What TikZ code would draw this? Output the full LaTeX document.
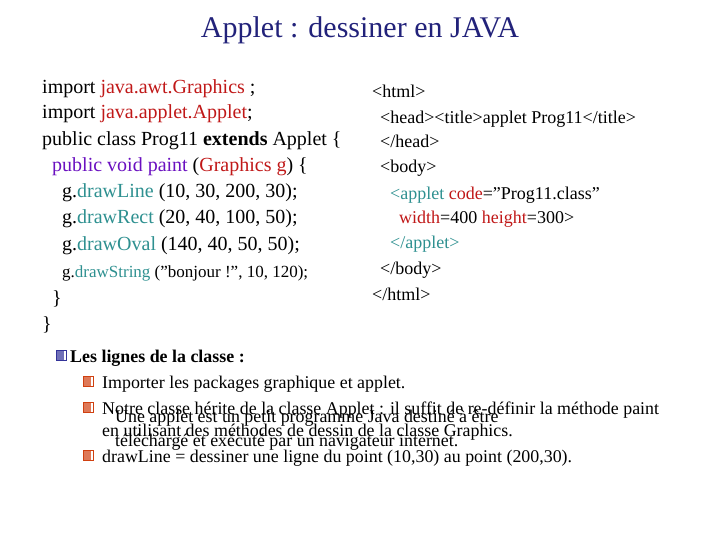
\documentclass[tikz,border=0pt]{standalone}
\usepackage{fontspec}
\setmainfont{Liberation Serif}
\definecolor{jred}{HTML}{C01818}
\definecolor{jteal}{HTML}{2E9090}
\definecolor{jpur}{HTML}{6A10C0}
\definecolor{ttl}{HTML}{22227A}
\definecolor{bblue}{HTML}{333399}
\definecolor{bor}{HTML}{D04010}
\newcommand{\dq}{\char34\relax}
\begin{document}
\begin{tikzpicture}[x=1pt,y=-1pt,
  every node/.style={inner sep=0pt,anchor=base west},
  code/.style={font=\fontsize{20}{20}\selectfont},
  html/.style={font=\fontsize{18}{18}\selectfont},
  txt/.style={font=\fontsize{17.9}{18}\selectfont},
  bul/.style={draw=#1,line width=0.6pt,fill=white,minimum size=10pt,inner sep=0pt,anchor=center,
     path picture={\fill[#1!70] (path picture bounding box.south west) rectangle ([xshift=-2pt,yshift=2pt]path picture bounding box.north east);}}]
\useasboundingbox (0,0) rectangle (720,540);
\node[anchor=base,text=ttl,font=\fontsize{30}{30}\selectfont] (title) at (360,38) {Applet : dessiner en JAVA};
% Java code
\node[code] (c1) at (42,94) {import \textcolor{jred}{java.awt.Graphics} ;};
\node[code] (c2) at (42,119) {import \textcolor{jred}{java.applet.Applet};};
\node[code] (c3) at (42,146) {public class Prog11 \textbf{extends} Applet \{};
\node[code] (c4) at (52,172) {\textcolor{jpur}{public void paint} (\textcolor{jred}{Graphics g}) \{};
\node[code] (c5) at (62,198) {g.\textcolor{jteal}{drawLine} (10, 30, 200, 30);};
\node[code] (c6) at (62,224) {g.\textcolor{jteal}{drawRect} (20, 40, 100, 50);};
\node[code] (c7) at (62,250) {g.\textcolor{jteal}{drawOval} (140, 40, 50, 50);};
\node[font=\fontsize{17}{17}\selectfont] (c8) at (62,277) {g.\textcolor{jteal}{drawString} (\dq bonjour !\dq, 10, 120);};
\node[code] (c9) at (52,304) {\}};
\node[code] (c10) at (42,330) {\}};
% HTML
\node[html] (h1) at (372,98) {<html>};
\node[html] (h2) at (380,124) {<head><title>applet Prog11</title>};
\node[html] (h3) at (380,148) {</head>};
\node[html] (h4) at (380,173) {<body>};
\node[html] (h5) at (390,200) {\textcolor{jteal}{<applet} \textcolor{jred}{code}=\dq Prog11.class\dq};
\node[html] (h6) at (399,223) {\textcolor{jred}{width}=400 \textcolor{jred}{height}=300>};
\node[html] (h7) at (390,248) {\textcolor{jteal}{</applet>}};
\node[html] (h8) at (380,274) {</body>};
\node[html] (h9) at (372,300) {</html>};
% bullets
\node[bul=bblue] (b0) at (61,355) {};
\node[txt,font=\bfseries\fontsize{17.9}{18}\selectfont] (t0) at (70,362) {Les lignes de la classe :};
\node[bul=bor] (b1) at (88,381) {};
\node[txt] (t1) at (102,388) {Importer les packages graphique et applet.};
\node[bul=bor] (b2) at (88,407) {};
\node[txt] (t2) at (102,414) {Notre classe hérite de la classe Applet : il suffit de re-définir la méthode paint};
\node[txt] (t2b) at (102,436) {en utilisant des méthodes de dessin de la classe Graphics.};
\node[txt] (o1) at (115,422) {Une applet est un petit programme Java destiné à être};
\node[txt] (o2) at (115,446) {téléchargé et exécuté par un navigateur internet.};
\node[bul=bor] (b3) at (88,455) {};
\node[txt] (t3) at (102,462) {drawLine = dessiner une ligne du point (10,30) au point (200,30).};
\end{tikzpicture}
\end{document}
